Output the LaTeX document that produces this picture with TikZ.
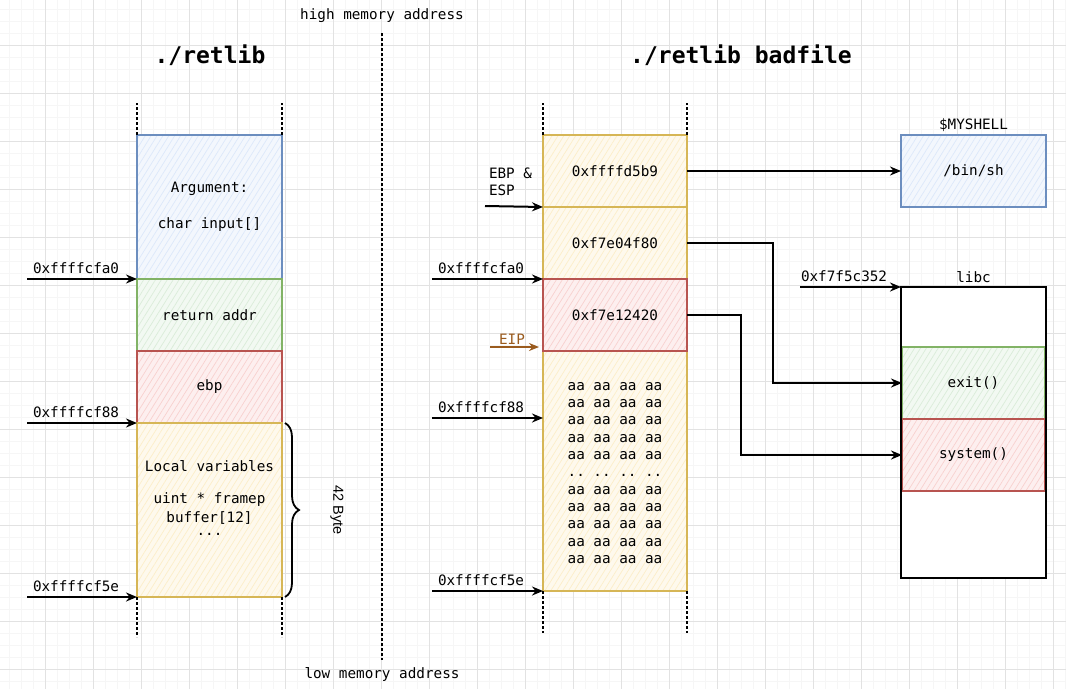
\documentclass[tikz,border=0pt]{standalone}
\usepackage{fontspec}
\setmonofont{DejaVu Sans Mono}
\setsansfont{Liberation Sans}
\usetikzlibrary{arrows.meta,patterns.meta,decorations.pathreplacing}
\definecolor{bstroke}{HTML}{6C8EBF}\definecolor{bfill}{HTML}{C9DBF7}
\definecolor{gstroke}{HTML}{82B366}\definecolor{gfill}{HTML}{C6E2C4}
\definecolor{rstroke}{HTML}{B85450}\definecolor{rfill}{HTML}{F5B8B5}
\definecolor{ystroke}{HTML}{D6B656}\definecolor{yfill}{HTML}{FBE5AC}
\definecolor{eipc}{HTML}{9A5B1E}
\definecolor{majgrid}{HTML}{E2E2E2}\definecolor{mingrid}{HTML}{F6F6F6}
\begin{document}
\begin{tikzpicture}[x=1pt,y=-1pt,
  every node/.style={font=\ttfamily\fontsize{14.3}{16}\selectfont, inner sep=0pt, outer sep=0pt},
  cell/.style 2 args={draw=#1, line width=1.8pt, preaction={fill=#2!22},
    pattern={Lines[angle=58,distance=5pt,line width=0.7pt]}, pattern color=#2!65,
    minimum width=145pt, anchor=center},
  arr/.style={-{Stealth[length=11pt,width=9pt]}, line width=2pt, black},
  guide/.style={line width=1.8pt, dash pattern=on 3pt off 2pt},
  title/.style={font=\ttfamily\bfseries\fontsize{23}{26}\selectfont}]
\useasboundingbox (0,0) rectangle (1066,689);
\fill[white] (0,0) rectangle (1066,689);
\foreach \i in {0,...,89} {
  \draw[mingrid, line width=0.6pt] ({9.5+12*\i},0) -- ({9.5+12*\i},689);
}
\foreach \i in {0,...,57} {
  \draw[mingrid, line width=0.6pt] (0,{9+12*\i}) -- (1066,{9+12*\i});
}
\foreach \i in {-1,...,21} {
  \draw[majgrid, line width=0.8pt] ({45.5+48*\i},0) -- ({45.5+48*\i},689);
}
\foreach \i in {-1,...,13} {
  \draw[majgrid, line width=0.8pt] (0,{45+48*\i}) -- (1066,{45+48*\i});
}

% memory labels and divider
\node (hi) at (382,16) {high memory address};
\node (lo) at (382,675) {low memory address};
\coordinate (dtop) at (382,33);
\coordinate (dbot) at (382,660);
\draw[guide] (dtop) -- (dbot);

% titles
\node[title] (t1) at (210,55) {./retlib};
\node[title] (t2) at (741,55) {./retlib badfile};

% ---------- left stack ----------
\node[cell={bstroke}{bfill}, minimum height=144pt] (arg) at (209.5,207) {};
\node[cell={gstroke}{gfill}, minimum height=72pt] (ret) at (209.5,315) {return addr};
\node[cell={rstroke}{rfill}, minimum height=72pt] (ebp) at (209.5,387) {ebp};
\node[cell={ystroke}{yfill}, minimum height=174pt] (loc) at (209.5,510) {};
\node (argt1) at (209.5,189) {Argument:};
\node (argt2) at (209.5,225) {char input[]};
\node (loct1) at (209.5,466) {Local variables};
\node (loct2) at (209.5,500) {uint * framep};
\node (loct3) at (209.5,518) {buffer[12]};
\node (loct4) at (209.5,534) {...};

\draw[guide] (arg.north west) -- ++(0,-32);
\draw[guide] (arg.north east) -- ++(0,-32);
\draw[guide] (loc.south west) -- ++(0,40);
\draw[guide] (loc.south east) -- ++(0,40);

\coordinate (la) at (27,279);
\coordinate (lb) at (27,423);
\coordinate (lc) at (27,597);
\node[anchor=south west] (lat) at (33,274) {0xffffcfa0};
\node[anchor=south west] (lbt) at (33,418) {0xffffcf88};
\node[anchor=south west] (lct) at (33,592) {0xffffcf5e};
\draw[arr] (la) -- (arg.south west);
\draw[arr] (lb) -- (ebp.south west);
\draw[arr] (lc) -- (loc.south west);

\draw[line width=1.8pt, decorate, decoration={brace, amplitude=14pt}]
  ([xshift=3pt]loc.north east) -- ([xshift=3pt]loc.south east);
\node[font=\sffamily\fontsize{14.5}{16}\selectfont, rotate=-90] (bytes) at (337,510) {42 Byte};

% ---------- right stack ----------
\node[cell={ystroke}{yfill}, minimum height=72pt, minimum width=144pt] (b1) at (615,171) {0xffffd5b9};
\node[cell={ystroke}{yfill}, minimum height=72pt, minimum width=144pt] (b2) at (615,243) {0xf7e04f80};
\node[cell={ystroke}{yfill}, minimum height=240pt, minimum width=144pt] (b4) at (615,471) {};
\node[cell={rstroke}{rfill}, minimum height=72pt, minimum width=144pt] (b3) at (615,315) {0xf7e12420};
\node[align=center, font=\ttfamily\fontsize{14.3}{17.35}\selectfont] (aa) at (615,473)
  {aa aa aa aa\\aa aa aa aa\\aa aa aa aa\\aa aa aa aa\\aa aa aa aa\\.. .. .. ..\\aa aa aa aa\\aa aa aa aa\\aa aa aa aa\\aa aa aa aa\\aa aa aa aa};

\draw[guide] (b1.north west) -- ++(0,-32);
\draw[guide] (b1.north east) -- ++(0,-32);
\draw[guide] (b4.south west) -- ++(0,42);
\draw[guide] (b4.south east) -- ++(0,42);

\node[anchor=west, align=left, font=\ttfamily\fontsize{14.3}{17}\selectfont] (esp) at (489,182) {EBP \&\\ESP};
\coordinate (re) at (485,206);
\draw[arr] (re) -- (b1.south west);

\coordinate (ra) at (432,279);
\node[anchor=south west] (rat) at (438,274) {0xffffcfa0};
\draw[arr] (ra) -- (b3.north west);

\coordinate (rip) at (490,347);
\node[text=eipc] (eip) at (512,339) {EIP};
\draw[-{Stealth[length=10pt,width=8pt]}, line width=2pt, eipc] (rip) -- (539,347);

\coordinate (rb) at (432,418);
\node[anchor=south west] (rbt) at (438,413) {0xffffcf88};
\draw[arr] (rb) -- (b4.west |- rb);

\coordinate (rc) at (432,591);
\node[anchor=south west] (rct) at (438,586) {0xffffcf5e};
\draw[arr] (rc) -- (b4.south west);

% ---------- shell and libc ----------
\node[cell={bstroke}{bfill}, minimum height=72pt] (shell) at (973.5,171) {/bin/sh};
\node (shellt) at (973.5,125) {\$MYSHELL};

\node[draw=black, fill=white, line width=1.8pt, minimum width=145pt, minimum height=291pt] (libc) at (973.5,432.5) {};
\node[cell={gstroke}{gfill}, minimum height=72pt, minimum width=143pt] (exit) at (973.5,383) {exit()};
\node[cell={rstroke}{rfill}, minimum height=72pt, minimum width=143pt] (sys) at (973.5,455) {system()};
\draw[line width=1.8pt] (libc.north west) rectangle (libc.south east);
\node (libct) at (973.5,277) {libc};
\coordinate (lp) at (800,287);
\node[anchor=south west] (lpt) at (801,282) {0xf7f5c352};
\draw[arr] (lp) -- (libc.north west);

\draw[arr] (b1.east) -- (shell.west);
\draw[arr] (b2.east) -- ++(86,0) |- (exit.west);
\draw[arr] (b3.east) -- ++(54,0) |- (sys.west);
\end{tikzpicture}
\end{document}
